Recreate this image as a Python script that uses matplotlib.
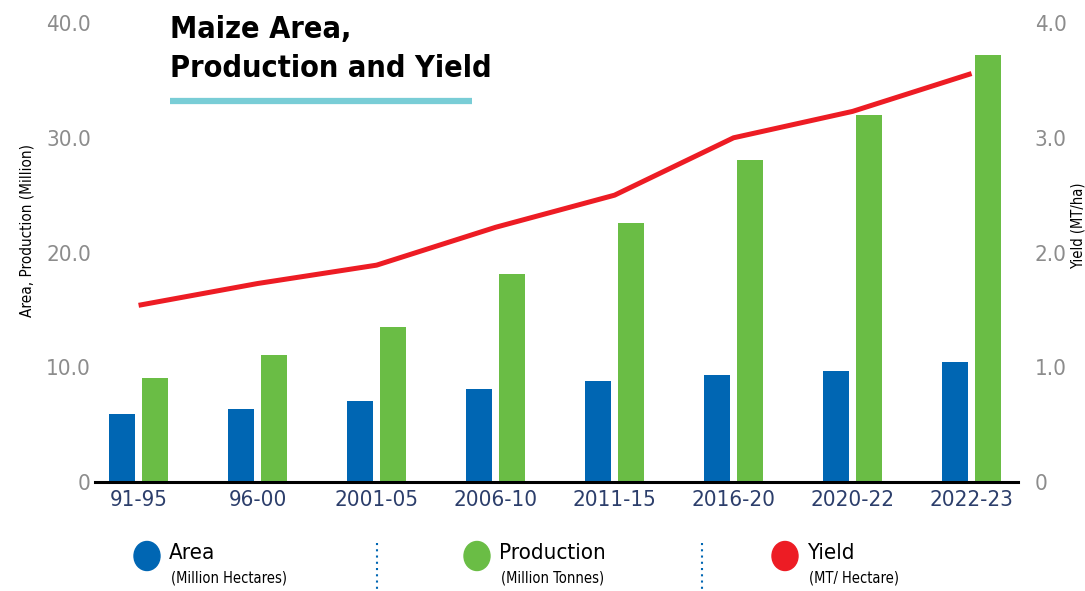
import numpy as np
import matplotlib
matplotlib.use("Agg")
import matplotlib.pyplot as plt
from matplotlib.patches import Ellipse

# Daten
periods = ["91-95", "96-00", "2001-05", "2006-10", "2011-15", "2016-20", "2020-22", "2022-23"]
area = [5.9, 6.4, 7.1, 8.1, 8.8, 9.3, 9.7, 10.5]
production = [9.1, 11.1, 13.5, 18.1, 22.6, 28.1, 32.0, 37.2]
yield_ = [1.54, 1.73, 1.89, 2.22, 2.50, 3.00, 3.23, 3.56]

left_ticks = [0, 10, 20, 30, 40]
left_labels = ["0", "10.0", "20.0", "30.0", "40.0"]
right_ticks = [0, 1, 2, 3, 4]
right_labels = ["0", "1.0", "2.0", "3.0", "4.0"]

BLUE = "#0066b3"
GREEN = "#6abd45"
RED = "#ed1c24"
GREY = "#8c8c8c"
NAVY = "#2c3e6b"

plt.rcParams["font.family"] = ["DejaVu Sans"]
plt.rcParams["font.stretch"] = "condensed"

fig = plt.figure(figsize=(10.85, 5.91), dpi=100)
ax = fig.add_axes([0.0876, 0.1844, 0.8506, 0.7766])

x = np.arange(len(periods))
w = 0.218
ax.bar(x - 0.139, area, w, color=BLUE, zorder=2)
ax.bar(x + 0.139, production, w, color=GREEN, zorder=2)

ax.set_xlim(-0.366, 7.39)
ax.set_ylim(0, 40)
ax.set_yticks(left_ticks)
ax.set_yticklabels(left_labels)
ax.set_xticks(x)
ax.set_xticklabels(periods)
ax.tick_params(axis="y", length=0, labelsize=16, labelcolor=GREY, pad=3)
ax.tick_params(axis="x", length=0, labelsize=16, labelcolor=NAVY, pad=6)
for s in ["top", "right", "left"]:
    ax.spines[s].set_visible(False)
ax.spines["bottom"].set_linewidth(2.2)
ax.spines["bottom"].set_color("black")
ax.set_ylabel("Area, Production (Million)", fontsize=11)
ax.yaxis.set_label_coords(-0.066, 0.549)

ax2 = ax.twinx()
ax2.plot(x, yield_, color=RED, lw=3.6, solid_capstyle="butt", zorder=3)
ax2.set_ylim(0, 4)
ax2.set_yticks(right_ticks)
ax2.set_yticklabels(right_labels)
ax2.tick_params(axis="y", length=0, labelsize=16, labelcolor=GREY, pad=12)
for s in ["top", "right", "left", "bottom"]:
    ax2.spines[s].set_visible(False)
ax2.set_ylabel("Yield (MT/ha)", fontsize=10.5)
ax2.yaxis.set_label_coords(1.0575, 0.558)

# Titel
fig.text(170 / 1085, 1 - 15 / 591, "Maize Area,\nProduction and Yield", fontsize=22,
         fontweight="bold", va="top", ha="left", linespacing=1.45)
fig.add_artist(plt.Line2D([170 / 1085, 472 / 1085], [1 - 101 / 591] * 2,
                          color="#79cdd6", lw=4.5, solid_capstyle="butt"))

# Legende
legend_items = [("Area", "(Million Hectares)", BLUE, 147),
                ("Production", "(Million Tonnes)", GREEN, 477),
                ("Yield", "(MT/ Hectare)", RED, 785)]
for name, sub, col, px in legend_items:
    fig.add_artist(Ellipse((px / 1085, 1 - 556 / 591), 26 / 1085, 29 / 591, color=col))
    fig.text((px + 22) / 1085, 1 - 553 / 591, name, fontsize=16, va="center", ha="left")
    fig.text((px + 24) / 1085, 1 - 578 / 591, sub, fontsize=10.5, va="center", ha="left")
for px in [377, 702]:
    fig.add_artist(plt.Line2D([px / 1085] * 2, [1 - 543 / 591, 1 - 589 / 591],
                              color=BLUE, lw=1.5, ls=(0, (1, 2))))

fig.savefig("out.png", dpi=100)
